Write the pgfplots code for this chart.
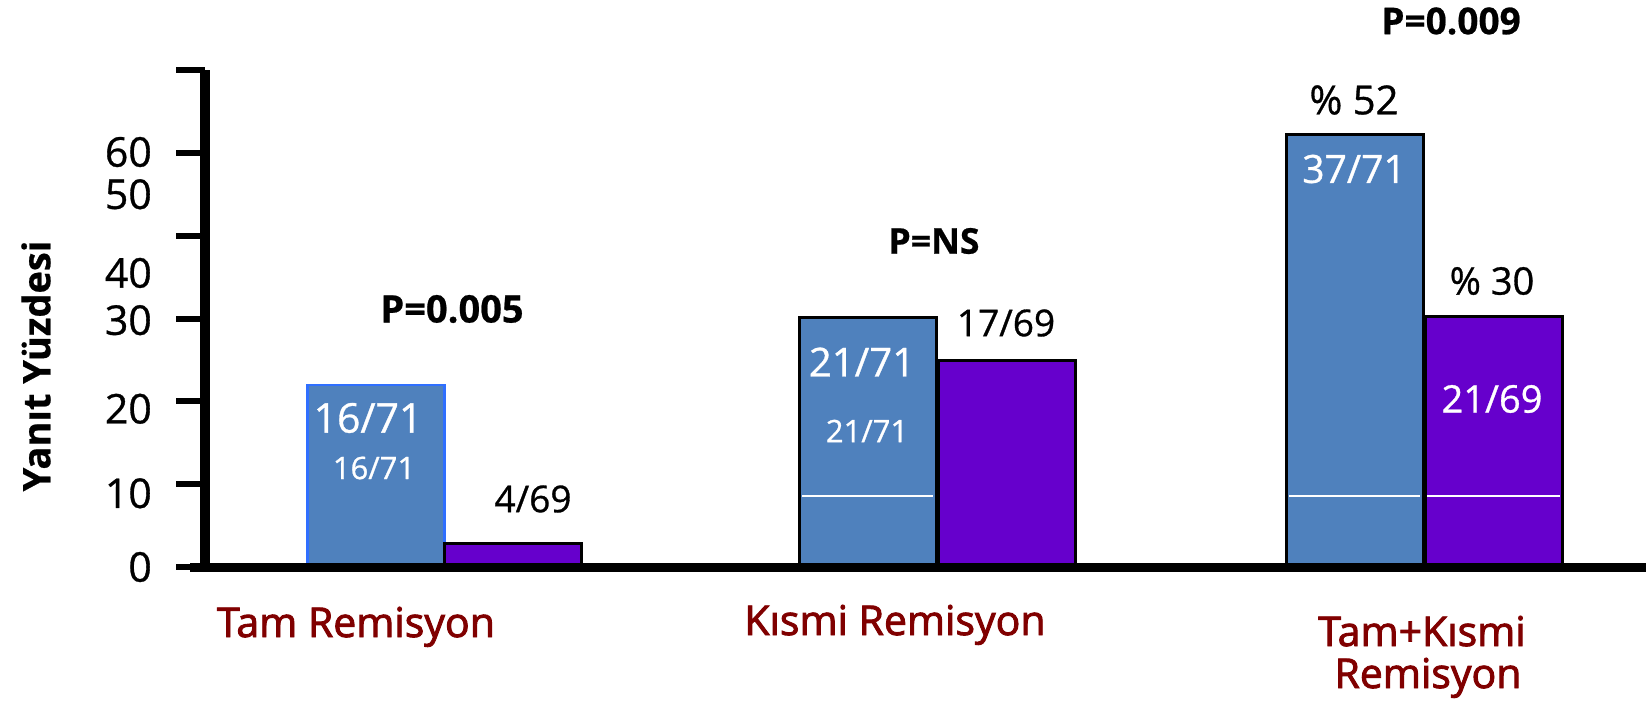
\documentclass[border=0pt]{standalone}
\usepackage{fontspec}
\setmainfont{Open Sans}[RawFeature={embolden=0.8}]
\newfontfamily\catfont{Open Sans}[RawFeature={embolden=2.2}]
\newfontfamily\pfont{Open Sans Bold}[RawFeature={embolden=0.6}]
\usepackage{pgfplots}
\pgfplotsset{compat=1.18}
\definecolor{barblue}{HTML}{4F81BD}
\definecolor{barpurple}{HTML}{6600CC}
\definecolor{edgeblue}{HTML}{2F6FFF}
\definecolor{catred}{HTML}{800000}
\begin{document}
\begin{tikzpicture}
\useasboundingbox (0pt,0pt) rectangle (1646pt,-702pt);
\begin{axis}[
  at={(205pt,-567pt)}, anchor=south west,
  scale only axis, width=1441pt, height=497pt,
  xmin=205, xmax=1646, ymin=0, ymax=60,
  axis x line=bottom, axis y line=left,
  x axis line style={-, line width=9pt, shorten <=-15pt},
  y axis line style={-, line width=9.5pt},
  axis on top=true,
  xtick=\empty,
  ytick={0,10,...,60}, yticklabels={},
  tick align=outside, major tick length=29pt,
  ytick style={line width=6pt, black},
  extra y ticks={0,8.9,19.1,29.8,35.5,45,50.1},
  extra y tick labels={0,10,20,30,40,50,60},
  extra y tick style={major tick length=0pt, tick style={draw=none}},
  yticklabel style={anchor=east, inner sep=0pt, xshift=-53pt, font=\fontsize{41}{48}\selectfont},
  clip=false,
  /pgf/number format/assume math mode=true,
]
% Group 1 (blue): Tam, Kismi, Tam+Kismi
\addplot[ybar, bar width=137, bar shift=0pt, fill=barblue, draw=edgeblue, line width=2.5pt] coordinates {(376,22.0)};
\addplot[ybar, bar width=137, bar shift=0pt, fill=barblue, draw=black, line width=3pt] coordinates {(867.5,30.1) (1354.5,52.2)};
% Group 2 (purple)
\addplot[ybar, bar width=137, bar shift=0pt, fill=barpurple, draw=black, line width=3pt] coordinates {(512.5,2.8) (1007,24.9) (1493.5,30.3)};
\draw[white, line width=1.5pt] (axis cs:802,8.6) -- (axis cs:933,8.6);
\draw[white, line width=1.5pt] (axis cs:1289,8.6) -- (axis cs:1420,8.6);
\draw[white, line width=1.5pt] (axis cs:1427,8.6) -- (axis cs:1560,8.6);
\end{axis}
% annotations
\begin{scope}[every node/.style={inner sep=0pt}]
\node[font=\fontsize{38}{44}\selectfont\pfont] at (452pt,-309pt) {P=0.005};
\node[font=\fontsize{35.5}{42}\selectfont\pfont] at (934pt,-241pt) {P=NS};
\node[font=\fontsize{37}{44}\selectfont\pfont] at (1451pt,-21pt) {P=0.009};
\node[white, font=\fontsize{41}{48}\selectfont] at (368pt,-418pt) {16/71};
\node[white, font=\fontsize{31}{36}\selectfont] at (374pt,-468pt) {16/71};
\node[font=\fontsize{37}{44}\selectfont] at (533pt,-499pt) {4/69};
\node[white, font=\fontsize{40}{48}\selectfont] at (862pt,-362pt) {21/71};
\node[white, font=\fontsize{31}{36}\selectfont] at (867pt,-431pt) {21/71};
\node[font=\fontsize{37}{44}\selectfont] at (1006pt,-323pt) {17/69};
\node[font=\fontsize{40}{48}\selectfont] at (1354pt,-100pt) {\% 52};
\node[white, font=\fontsize{39}{46}\selectfont] at (1354pt,-169pt) {37/71};
\node[font=\fontsize{38}{44}\selectfont] at (1492pt,-281pt) {\% 30};
\node[white, font=\fontsize{38}{44}\selectfont] at (1492pt,-399pt) {21/69};
\node[rotate=90, font=\fontsize{38}{44}\selectfont\pfont] at (36pt,-366pt) {Yanıt Yüzdesi};
\node[anchor=base, catred, font=\fontsize{41}{48}\selectfont\catfont] at (356pt,-637pt) {Tam Remisyon};
\node[anchor=base, catred, font=\fontsize{41}{48}\selectfont\catfont] at (895pt,-635pt) {Kısmi Remisyon};
\node[anchor=base, catred, font=\fontsize{41}{48}\selectfont\catfont] at (1422pt,-646pt) {Tam+Kısmi};
\node[anchor=base, catred, font=\fontsize{41}{48}\selectfont\catfont] at (1428pt,-688pt) {Remisyon};
\end{scope}
\end{tikzpicture}
\end{document}
